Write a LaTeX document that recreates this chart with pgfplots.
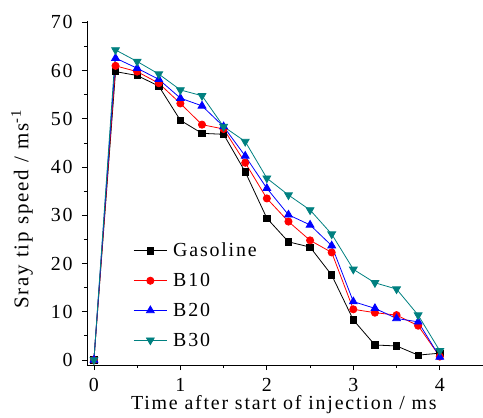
\documentclass[border=0pt]{standalone}
\usepackage{fontspec}
\setmainfont{Liberation Serif}[LetterSpace=9]
\usepackage{pgfplots}
\pgfplotsset{compat=1.18}
\definecolor{tealc}{RGB}{0,128,128}

\begin{document}
\begin{tikzpicture}
\begin{axis}[
  scale only axis,
  width=396bp, height=344bp,
  xmin=-0.08, xmax=4.5,
  ymin=-1.05, ymax=70.3,
  axis x line*=bottom, axis y line*=left,
  axis line style={line width=1pt},
  xtick={0,1,2,3,4}, minor xtick={0.5,1.5,2.5,3.5},
  ytick={0,10,...,70}, minor ytick={5,15,...,65},
  tick align=outside,
  major tick length=5bp, minor tick length=3bp,
  tick style={line width=0.8pt, black},
  /pgf/number format/assume math mode=true,
  tick label style={font=\fontsize{20}{23}\selectfont},
  yticklabel style={xshift=-6bp},
  xticklabel style={yshift=-5bp},
  label style={font=\fontsize{20}{23}\selectfont},
  xlabel={Time after start of injection / ms},
  ylabel={Sray tip speed / ms\textsuperscript{-1}},
  xlabel style={at={(axis description cs:0.497,-0.116)}, anchor=center},
  ylabel style={at={(axis description cs:-0.164,0.453)}, anchor=center, font=\fontsize{21}{24}\selectfont},
  clip=false,
  legend style={draw=none, fill=none, at={(axis cs:0.455,24.7)}, anchor=north west,
    font=\fontsize{20}{23}\selectfont, row sep=11bp, inner sep=0pt,
    /tikz/every odd column/.append style={column sep=4bp}},
  legend cell align=left,
  legend image code/.code={
    \draw[#1] (0bp,0bp) -- (33bp,0bp);
    \draw[#1, mark repeat=2, mark phase=2] plot coordinates {(0bp,0bp) (16.5bp,0bp) (33bp,0bp)};
  },
]
\addplot[black, line width=0.8pt, mark=square*, mark size=3.2bp]
  coordinates {(0,0) (0.25,59.8) (0.5,59) (0.75,56.8) (1,49.7) (1.25,47) (1.5,46.8)
  (1.75,39) (2,29.4) (2.25,24.5) (2.5,23.4) (2.75,17.6) (3,8.3) (3.25,3.1)
  (3.5,2.9) (3.75,1.0) (4,1.4)};
\addlegendentry{Gasoline}
\addplot[red, line width=0.8pt, mark=*, mark size=3.6bp]
  coordinates {(0,0) (0.25,61) (0.5,59.8) (0.75,57.4) (1,53.2) (1.25,48.8) (1.5,47.9)
  (1.75,40.9) (2,33.5) (2.25,28.7) (2.5,24.8) (2.75,22.3) (3,10.5) (3.25,9.8)
  (3.5,9.3) (3.75,7.1) (4,0.7)};
\addlegendentry{B10}
\addplot[blue, line width=0.8pt, mark=triangle*, mark size=4.5bp]
  coordinates {(0,0) (0.25,62.6) (0.5,60.5) (0.75,58.2) (1,54.3) (1.25,52.7) (1.5,48.4)
  (1.75,42.3) (2,35.6) (2.25,30.1) (2.5,28) (2.75,23.7) (3,12.1) (3.25,10.7)
  (3.5,8.6) (3.75,7.9) (4,0.6)};
\addlegendentry{B20}
\addplot[tealc, line width=0.8pt, mark=triangle*, mark size=4.5bp, mark options={rotate=180}]
  coordinates {(0,0) (0.25,64.3) (0.5,61.9) (0.75,59.3) (1,56) (1.25,54.8) (1.5,48.4)
  (1.75,45.3) (2,37.7) (2.25,34.2) (2.5,31.1) (2.75,26.1) (3,18.8) (3.25,16)
  (3.5,14.7) (3.75,9.3) (4,1.9)};
\addlegendentry{B30}
\end{axis}
\pgfresetboundingbox
\path ([shift={(-87bp,-53bp)}]current axis.south west) rectangle ([shift={(0bp,21bp)}]current axis.north east);
\end{tikzpicture}
\end{document}
